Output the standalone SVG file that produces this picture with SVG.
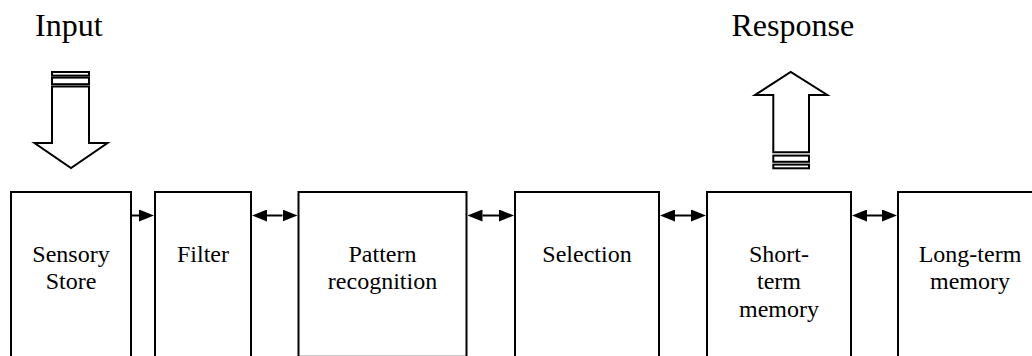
<svg xmlns="http://www.w3.org/2000/svg" width="1032" height="356" viewBox="0 0 1032 356" font-family="Times New Roman">
  <style>
    .box { fill: #fff; stroke: #000; stroke-width: 2; }
    .blk { fill: #fff; stroke: #000; stroke-width: 2; stroke-linejoin: miter; }
    .lbl { font-size: 24px; fill: #000; text-anchor: middle; }
    .ttl { font-size: 32px; fill: #000; }
    .conn { stroke: #000; stroke-width: 2; fill: none; }
  </style>
  <defs>
    <marker id="head" markerUnits="userSpaceOnUse" markerWidth="15" markerHeight="12" refX="0" refY="6" orient="auto-start-reverse" viewBox="0 0 15 12">
      <path d="M0,0 L15,6 L0,12 Z" fill="#000"/>
    </marker>
  </defs>
  <rect width="1032" height="356" fill="#fff"/>

  <g id="input">
    <text class="ttl" x="35" y="36">Input</text>
    <rect class="blk" x="52" y="72" width="37" height="3.6"/>
    <rect class="blk" x="52" y="77.6" width="37" height="6.6"/>
    <path class="blk" d="M52,86.5 V143 H34.5 L71,168 L107.5,143 H89 V86.5 Z"/>
  </g>

  <g id="response">
    <text class="ttl" x="731.5" y="36">Response</text>
    <path class="blk" d="M773.3,152.3 V95 H755 L790.7,72 L827.3,95 H809 V152.3 Z"/>
    <rect class="blk" x="773.3" y="155.6" width="35.7" height="6.2"/>
    <rect class="blk" x="773.3" y="164.6" width="35.7" height="3.7"/>
  </g>

  <g id="sensory-store">
    <rect class="box" x="11" y="192" width="120" height="210"/>
    <text class="lbl" x="71" y="261.7">Sensory</text>
    <text class="lbl" x="71" y="289.3">Store</text>
  </g>

  <g id="filter">
    <rect class="box" x="155" y="192" width="96" height="210"/>
    <text class="lbl" x="203" y="261.7">Filter</text>
  </g>

  <g id="pattern-recognition">
    <rect class="box" x="298.5" y="192" width="168" height="164.8"/>
    <text class="lbl" x="382.5" y="261.7">Pattern</text>
    <text class="lbl" x="382.5" y="289.3">recognition</text>
  </g>

  <g id="selection">
    <rect class="box" x="515" y="192" width="144" height="210"/>
    <text class="lbl" x="587" y="261.7">Selection</text>
  </g>

  <g id="short-term-memory">
    <rect class="box" x="707" y="192" width="144" height="210"/>
    <text class="lbl" x="779" y="261.7">Short-</text>
    <text class="lbl" x="779" y="289.3">term</text>
    <text class="lbl" x="779" y="316.9">memory</text>
  </g>

  <g id="long-term-memory">
    <rect class="box" x="898" y="192" width="160" height="210"/>
    <text class="lbl" x="970" y="261.7">Long-term</text>
    <text class="lbl" x="970" y="289.3">memory</text>
  </g>

  <g id="connectors">
    <line class="conn" x1="132" y1="215.5" x2="139" y2="215.5" marker-end="url(#head)"/>
    <line class="conn" x1="267" y1="215.5" x2="282.5" y2="215.5" marker-start="url(#head)" marker-end="url(#head)"/>
    <line class="conn" x1="482.5" y1="215.5" x2="499" y2="215.5" marker-start="url(#head)" marker-end="url(#head)"/>
    <line class="conn" x1="675" y1="215.5" x2="691" y2="215.5" marker-start="url(#head)" marker-end="url(#head)"/>
    <line class="conn" x1="867" y1="215.5" x2="882" y2="215.5" marker-start="url(#head)" marker-end="url(#head)"/>
  </g>
</svg>
